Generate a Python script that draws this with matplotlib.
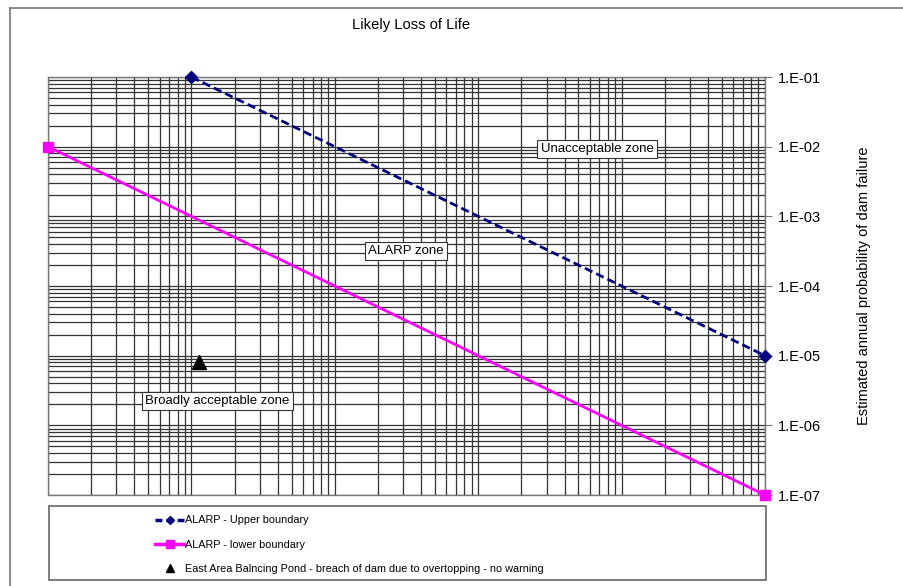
import numpy as np
import matplotlib
matplotlib.use("Agg")
import matplotlib.pyplot as plt
from matplotlib.ticker import LogLocator, FuncFormatter, NullFormatter
from matplotlib.lines import Line2D
from matplotlib.patches import Rectangle

plt.rcParams['font.family'] = ['Liberation Sans', 'DejaVu Sans']

# F-N criteria: likely loss of life vs annual probability of failure
upper_x = [0.1, 1000]
upper_p = [1e-1, 1e-5]
lower_x = [0.01, 1000]
lower_p = [1e-2, 1e-7]
pond_x = [0.113]
pond_p = [8e-6]

labels = ['ALARP - Upper boundary', 'ALARP - lower boundary',
          'East Area Balncing Pond - breach of dam due to overtopping - no warning']

fig = plt.figure(figsize=(9.04, 5.86), dpi=100)
ax = fig.add_axes([48/904, 1-495/586, 717/904, 418/586])

ax.set_xscale('log')
ax.set_yscale('log')
ax.set_xlim(0.01, 1000)
ax.set_ylim(1e-7, 1e-1)

grid_kw = dict(color='#333333', linewidth=0.9)
ax.xaxis.set_major_locator(LogLocator(base=10, numticks=20))
ax.xaxis.set_minor_locator(LogLocator(base=10, subs=np.arange(2, 10), numticks=20))
ax.yaxis.set_major_locator(LogLocator(base=10, numticks=20))
ax.yaxis.set_minor_locator(LogLocator(base=10, subs=np.arange(2, 10), numticks=20))
ax.grid(True, which='both', **grid_kw)
ax.set_axisbelow(True)

ax.tick_params(axis='x', which='both', bottom=False, labelbottom=False)
ax.yaxis.tick_right()
ax.tick_params(axis='y', which='major', right=True, left=False, length=5,
               color='#777777', labelsize=10.5, pad=4)
ax.tick_params(axis='y', which='minor', right=False, left=False)
ax.yaxis.set_major_formatter(FuncFormatter(lambda v, _: "1.E-%02d" % round(-np.log10(v))))
ax.yaxis.set_minor_formatter(NullFormatter())
for s in ax.spines.values():
    s.set_color('#777777')
    s.set_linewidth(1.0)

ax.yaxis.set_label_position('right')
ax.set_ylabel('Estimated annual probability of dam failure', fontsize=10.5, labelpad=26)

ax.plot(upper_x, upper_p, color='#000080', linestyle=(0, (3, 1.5)), linewidth=2,
        marker='D', markersize=6, clip_on=False, zorder=5)
ax.plot(lower_x, lower_p, color='#FF00FF', linewidth=2,
        marker='s', markersize=7, clip_on=False, zorder=5)
ax.plot(pond_x, pond_p, linestyle='none', color='black',
        marker='^', markersize=10, zorder=6)

box = dict(boxstyle='square,pad=0.25', facecolor='white', edgecolor='#333333', linewidth=0.8)
ax.text(0.766, 0.828, 'Unacceptable zone', transform=ax.transAxes, ha='center', va='center',
        fontsize=9.5, bbox=box, zorder=7)
ax.text(0.499, 0.584, 'ALARP zone', transform=ax.transAxes, ha='center', va='center',
        fontsize=9.5, bbox=box, zorder=7)
ax.text(0.236, 0.225, 'Broadly acceptable zone', transform=ax.transAxes, ha='center',
        va='center', fontsize=9.5, bbox=box, zorder=7)

fig.text(411/904, 1-25/586, 'Likely Loss of Life', ha='center', va='center', fontsize=10.6)

# legend frame below the plot, smaller markers in the keys
fig.patches.append(Rectangle((49/904, 1-580/586), 717/904, 74/586, transform=fig.transFigure,
                             facecolor='white', edgecolor='#666666', linewidth=1.2))
keys = [Line2D([], [], color='#000080', linestyle=(0, (2, 1.2)), linewidth=2.5,
               marker='D', markersize=4.5),
        Line2D([], [], color='#FF00FF', linewidth=2.5, marker='s', markersize=6),
        Line2D([], [], color='black', linestyle='none', marker='^', markersize=5.5)]
fig.legend(keys, labels, loc='upper left', bbox_to_anchor=(150/904, 1-510/586),
           frameon=False, numpoints=1, handlelength=2.6, handletextpad=0.1,
           labelspacing=1.3, borderpad=0, fontsize=7.8)

# outer chart border
fig.add_artist(Line2D([10/904, 10/904], [1-8/586, 0], transform=fig.transFigure,
                      color='#777777', linewidth=1.2))
fig.add_artist(Line2D([10/904, 1], [1-8/586, 1-8/586], transform=fig.transFigure,
                      color='#777777', linewidth=1.2))

fig.savefig('out.png', dpi=100, facecolor='white')
